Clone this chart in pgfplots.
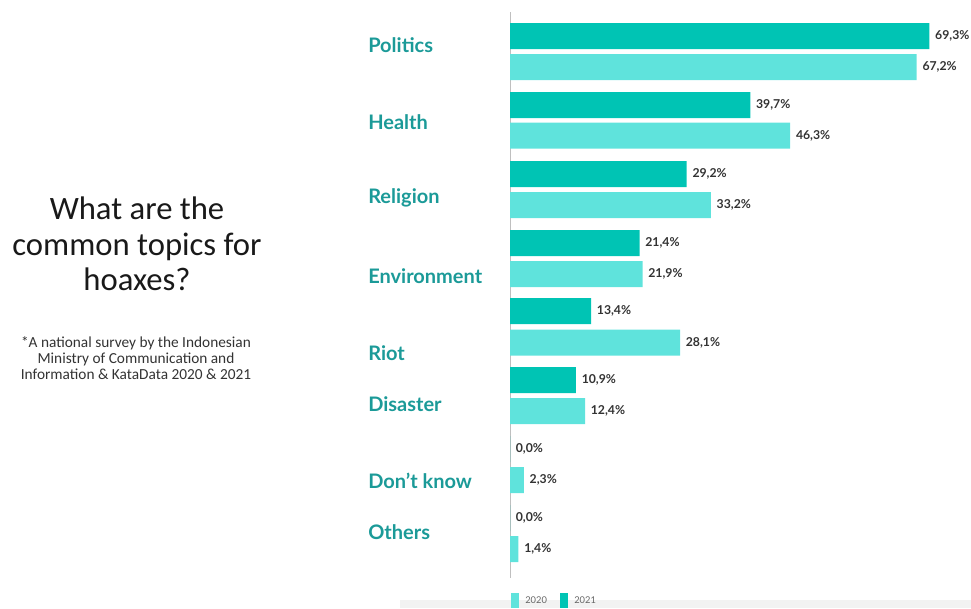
\documentclass[border=0pt]{standalone}
\usepackage{pgfplots}
\pgfplotsset{compat=1.18}
\usepackage{fontspec}
\setmainfont{Carlito}
\newfontfamily\lato{Lato}
\definecolor{cDark}{HTML}{00C4B4}
\definecolor{cLight}{HTML}{5FE3DC}
\definecolor{cLab}{HTML}{1B9A98}
\definecolor{cVal}{HTML}{333333}
\newcommand{\px}[2]{({(#1)*0.75pt},{-(#2)*0.75pt})}
\begin{document}
\begin{tikzpicture}
\useasboundingbox \px{0}{0} rectangle \px{971}{608};
\fill[black!5] \px{400}{600} rectangle \px{971}{608};
\begin{axis}[
  at={(382.5pt,-9pt)}, anchor=north west,
  scale only axis, width=345pt, height=424.5pt,
  xmin=0, xmax=76, ymin=12, ymax=578, y dir=reverse,
  axis x line=none, axis y line*=left,
  axis line style={black!25, line width=0.6pt},
  xtick=\empty, ytick=\empty,
  xbar, bar shift=0pt, bar width=26,
  point meta=explicit symbolic,
  nodes near coords,
  nodes near coords style={anchor=west, xshift=0.8pt, font=\lato\bfseries\fontsize{9.2}{10}\selectfont, text=cVal},
  clip=false,
]
\addplot[draw=none, fill=cLight] table[meta=lab] {
x y lab
67.2 67 67,2\%
46.3 135.5 46,3\%
33.2 205 33,2\%
21.9 274 21,9\%
28.1 342.5 28,1\%
12.4 411 12,4\%
2.3 480 2,3\%
1.4 549 1,4\%
};
\addplot[draw=none, fill=cDark] table[meta=lab] {
x y lab
69.3 36 69,3\%
39.7 105 39,7\%
29.2 174 29,2\%
21.4 243 21,4\%
13.4 311 13,4\%
10.9 380 10,9\%
0.0 449 0,0\%
0.0 518 0,0\%
};
\end{axis}
% legend
\fill[cLight] \px{511}{593} rectangle \px{519}{608};
\node[anchor=west, inner sep=0pt, font=\lato\fontsize{7}{8}\selectfont, text=black!60] at \px{525}{600.5} {2020};
\fill[cDark] \px{560}{593} rectangle \px{568}{608};
\node[anchor=west, inner sep=0pt, font=\lato\fontsize{7}{8}\selectfont, text=black!60] at \px{574}{600.5} {2021};
\begin{scope}[every node/.style={anchor=west, text=cLab, font=\lato\bfseries\fontsize{15}{17}\selectfont, inner sep=0pt}]
\node at \px{368}{45} {Politics};
\node at \px{368}{122} {Health};
\node at \px{368}{198} {Religion};
\node at \px{368}{276} {Environment};
\node at \px{368}{353} {Riot};
\node at \px{368}{404} {Disaster};
\node at \px{368}{481} {Don’t know};
\node at \px{368}{532} {Others};
\end{scope}
\node[align=center, font=\fontsize{24.5}{26.5}\selectfont, text=black!90] at \px{137}{244} {What are the\\common topics for\\hoaxes?};
\node[align=center, font=\fontsize{11.5}{12}\selectfont, text=black!80] at \px{136}{358} {*A national survey by the Indonesian\\Ministry of Communication and\\Information \& KataData 2020 \& 2021};
\end{tikzpicture}
\end{document}
